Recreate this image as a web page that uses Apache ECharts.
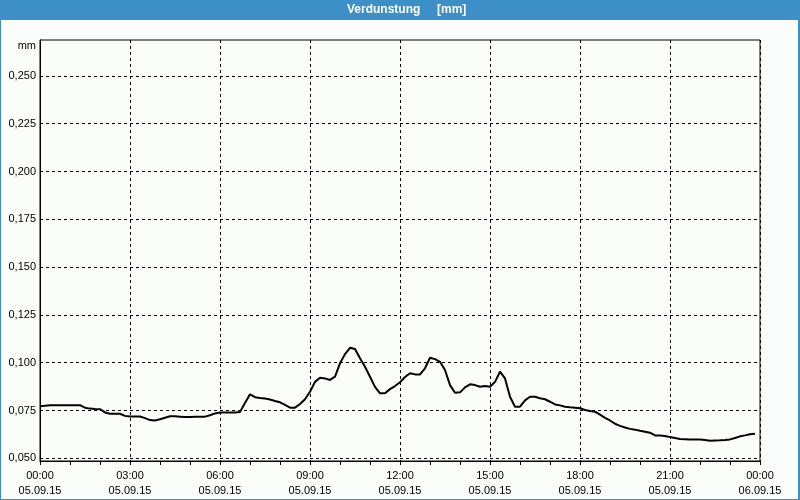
<!DOCTYPE html>
<html>
<head>
<meta charset="utf-8">
<script src="https://cdn.jsdelivr.net/npm/echarts@6/dist/echarts.min.js"></script>
<style>html,body{margin:0;padding:0;background:#3c8fc7}#c{width:800px;height:500px}</style>
</head>
<body>
<div id="c"></div>
<script>
// Evaporation (mm), 10-minute steps starting 05.09.15 00:00
const stepMinutes = 10;
const values = [
0.0772,0.0775,0.0778,0.0778,0.0778,0.0778,0.0778,0.0778,0.0778,0.0765,
0.0760,0.0758,0.0757,0.0740,0.0733,0.0733,0.0733,0.0722,0.0719,0.0719,
0.0719,0.0710,0.0700,0.0698,0.0704,0.0712,0.0720,0.0720,0.0718,0.0716,
0.0716,0.0717,0.0718,0.0718,0.0725,0.0735,0.0740,0.0740,0.0740,0.0740,
0.0742,0.0790,0.0835,0.0820,0.0816,0.0813,0.0808,0.0800,0.0793,0.0779,
0.0765,0.0765,0.0784,0.0809,0.0848,0.0900,0.0921,0.0918,0.0910,0.0927,
0.0997,0.1045,0.1078,0.1072,0.1023,0.0979,0.0927,0.0874,0.0840,0.0840,
0.0862,0.0878,0.0898,0.0925,0.0945,0.0939,0.0939,0.0971,0.1026,0.1019,
0.1005,0.0962,0.0883,0.0843,0.0845,0.0871,0.0887,0.0883,0.0874,0.0878,
0.0874,0.0900,0.0953,0.0918,0.0822,0.0770,0.0770,0.0803,0.0822,0.0822,
0.0814,0.0809,0.0796,0.0782,0.0777,0.0770,0.0767,0.0765,0.0762,0.0753,
0.0747,0.0744,0.0729,0.0712,0.0698,0.0681,0.0670,0.0661,0.0654,0.0650,
0.0644,0.0639,0.0634,0.0620,0.0619,0.0617,0.0611,0.0606,0.0601,0.0600,
0.0599,0.0599,0.0599,0.0596,0.0592,0.0593,0.0594,0.0596,0.0599,0.0606,
0.0615,0.0620,0.0626,0.0629
];
const times = values.map((_, i) => i * stepMinutes);
const yTicks = [0.050, 0.075, 0.100, 0.125, 0.150, 0.175, 0.200, 0.225, 0.250];
const xTickLabels = ['00:00\n05.09.15','03:00\n05.09.15','06:00\n05.09.15','09:00\n05.09.15','12:00\n05.09.15','15:00\n05.09.15','18:00\n05.09.15','21:00\n05.09.15','00:00\n06.09.15'];
const titleMain = 'Verdunstung';
const titleUnit = '[mm]';
const unitLabel = 'mm';

const chart = echarts.init(document.getElementById('c'), null, {renderer: 'canvas'});
const font = '"Liberation Sans", Arial, sans-serif';
chart.setOption({
  animation: false,
  backgroundColor: '#3c8fc7',
  graphic: [
    {type: 'rect', shape: {x: 1, y: 20, width: 797, height: 479}, style: {fill: '#fbfdfb'}, z: -10},
    {type: 'text', x: 347, y: 10, style: {text: titleMain, fill: '#fff', font: 'bold 12px ' + font, textVerticalAlign: 'middle', textAlign: 'left'}},
    {type: 'text', x: 437, y: 10, style: {text: titleUnit, fill: '#fff', font: 'bold 12px ' + font, textVerticalAlign: 'middle', textAlign: 'left'}},
    {type: 'text', x: 36, y: 46, style: {text: unitLabel, fill: '#000', font: '11px ' + font, textVerticalAlign: 'middle', textAlign: 'right'}}
  ],
  grid: {left: 40, top: 40, right: 40, bottom: 39, show: true, borderColor: '#000', borderWidth: 1, backgroundColor: 'transparent'},
  xAxis: {
    type: 'value', min: 0, max: 1440, interval: 180,
    axisLine: {show: true, lineStyle: {color: '#000', width: 1}},
    axisTick: {show: true, length: 4, lineStyle: {color: '#000'}},
    minorTick: {show: true, splitNumber: 3, length: 4, lineStyle: {color: '#000'}},
    splitLine: {show: true, lineStyle: {color: '#000', type: [3, 3], width: 1}},
    axisLabel: {
      color: '#000', fontFamily: font, fontSize: 11, lineHeight: 15, margin: 7,
      formatter: v => xTickLabels[Math.round(v / 180)]
    }
  },
  yAxis: {
    type: 'value', min: 0.0486, max: 0.2688,
    axisLine: {show: true, lineStyle: {color: '#000'}},
    axisTick: {show: false},
    splitLine: {show: false},
    axisLabel: {
      color: '#000', fontFamily: font, fontSize: 11, margin: 4,
      customValues: yTicks,
      formatter: v => v.toFixed(3).replace('.', ',')
    }
  },
  series: [{
    type: 'line',
    data: times.map((t, i) => [t, values[i]]),
    showSymbol: false,
    lineStyle: {color: '#000', width: 2},
    markLine: {
      silent: true, symbol: ['none', 'none'], label: {show: false}, precision: 4,
      lineStyle: {color: '#000', type: [3, 3], width: 1},
      data: yTicks.map(v => ({yAxis: v}))
    }
  }]
});
</script>
</body>
</html>
